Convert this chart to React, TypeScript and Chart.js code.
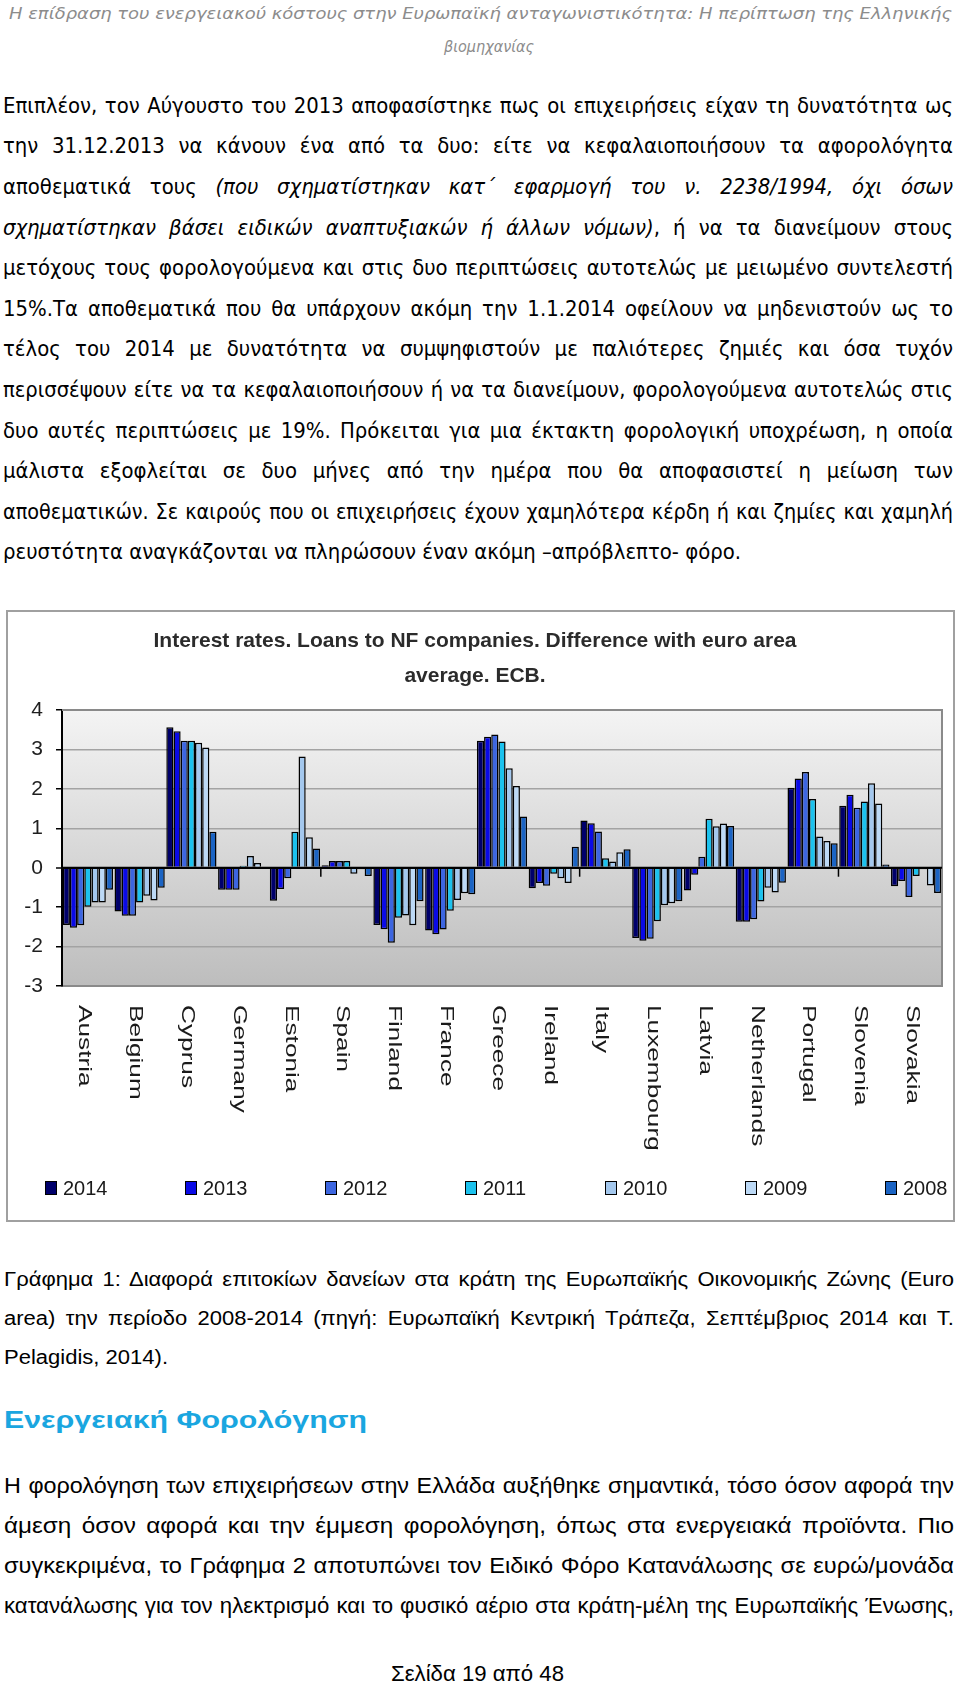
import React, { useEffect, useRef } from 'react';
import { Chart, registerables } from 'chart.js';
Chart.register(...registerables);

// ---------------- DATA ----------------
const countries = ['Austria', 'Belgium', 'Cyprus', 'Germany', 'Estonia', 'Spain', 'Finland', 'France', 'Greece', 'Ireland', 'Italy', 'Luxembourg', 'Latvia', 'Netherlands', 'Portugal', 'Slovenia', 'Slovakia'];
const years = ['2014', '2013', '2012', '2011', '2010', '2009', '2008'];
const v2014 = [-1.45, -1.11, 3.56, -0.56, -0.84, 0.06, -1.45, -1.59, 3.22, -0.52, 1.2, -1.78, -0.58, -1.37, 2.03, 1.57, -0.47];
const v2013 = [-1.52, -1.22, 3.46, -0.56, -0.54, 0.17, -1.56, -1.69, 3.32, -0.39, 1.13, -1.85, -0.18, -1.37, 2.26, 1.85, -0.34];
const v2012 = [-1.46, -1.22, 3.22, -0.56, -0.27, 0.17, -1.9, -1.57, 3.38, -0.46, 0.92, -1.8, 0.28, -1.31, 2.43, 1.52, -0.74];
const v2011 = [-0.99, -0.88, 3.22, 0.05, 0.91, 0.17, -1.27, -1.09, 3.2, -0.15, 0.24, -1.36, 1.24, -0.86, 1.74, 1.68, -0.21];
const v2010 = [-0.88, -0.71, 3.17, 0.3, 2.82, -0.15, -1.21, -0.82, 2.52, -0.27, 0.16, -0.95, 1.05, -0.51, 0.79, 2.14, -0.04];
const v2009 = [-0.88, -0.83, 3.05, 0.12, 0.77, -0.04, -1.46, -0.65, 2.07, -0.39, 0.39, -0.9, 1.12, -0.63, 0.68, 1.63, -0.45];
const v2008 = [-0.56, -0.51, 0.91, 0, 0.49, -0.21, -0.85, -0.67, 1.3, 0.53, 0.47, -0.85, 1.06, -0.38, 0.62, 0.08, -0.64];
const seriesValues = [v2014, v2013, v2012, v2011, v2010, v2009, v2008];
const seriesColors = ['#00006b', '#0a0ae6', '#3d66e0', '#1cc2ee', '#a4c8ee', '#bcd9f6', '#1b64c4'];
const yMin = -3;
const yMax = 4;
const yStep = 1;
const chartTitle = ['Interest rates. Loans to NF companies. Difference with euro area', 'average. ECB.'];

// ---------------- TEXT ----------------
const headerLines = ['Η επίδραση του ενεργειακού κόστους στην Ευρωπαϊκή ανταγωνιστικότητα: Η περίπτωση της Ελληνικής', 'βιομηχανίας'];
type Seg = { t: string; i?: boolean };
const bodyLines: Seg[][] = [
  [{ t: 'Επιπλέον, τον Αύγουστο του 2013 αποφασίστηκε πως οι επιχειρήσεις είχαν τη δυνατότητα ως' }],
  [{ t: 'την 31.12.2013 να κάνουν ένα από τα δυο: είτε να κεφαλαιοποιήσουν τα αφορολόγητα' }],
  [{ t: 'αποθεματικά τους ' }, { t: '(που σχηματίστηκαν κατ΄ εφαρμογή του ν. 2238/1994, όχι όσων', i: true }],
  [{ t: 'σχηματίστηκαν βάσει ειδικών αναπτυξιακών ή άλλων νόμων)', i: true }, { t: ', ή να τα διανείμουν στους' }],
  [{ t: 'μετόχους τους φορολογούμενα και στις δυο περιπτώσεις αυτοτελώς με μειωμένο συντελεστή' }],
  [{ t: '15%.Τα αποθεματικά που θα υπάρχουν ακόμη την 1.1.2014 οφείλουν να μηδενιστούν ως το' }],
  [{ t: 'τέλος του 2014 με δυνατότητα να συμψηφιστούν με παλιότερες ζημιές και όσα τυχόν' }],
  [{ t: 'περισσέψουν είτε να τα κεφαλαιοποιήσουν ή να τα διανείμουν, φορολογούμενα αυτοτελώς στις' }],
  [{ t: 'δυο αυτές περιπτώσεις με 19%. Πρόκειται για μια έκτακτη φορολογική υποχρέωση, η οποία' }],
  [{ t: 'μάλιστα εξοφλείται σε δυο μήνες από την ημέρα που θα αποφασιστεί η μείωση των' }],
  [{ t: 'αποθεματικών. Σε καιρούς που οι επιχειρήσεις έχουν χαμηλότερα κέρδη ή και ζημίες και χαμηλή' }],
  [{ t: 'ρευστότητα αναγκάζονται να πληρώσουν έναν ακόμη –απρόβλεπτο- φόρο.' }],
];
const captionLines = [
  'Γράφημα 1: Διαφορά επιτοκίων δανείων στα κράτη της Ευρωπαϊκής Οικονομικής Ζώνης (Euro',
  'area) την περίοδο 2008-2014 (πηγή: Ευρωπαϊκή Κεντρική Τράπεζα, Σεπτέμβριος 2014 και Τ.',
  'Pelagidis, 2014).',
];
const headingText = 'Ενεργειακή Φορολόγηση';
const para2Lines = [
  'Η φορολόγηση των επιχειρήσεων στην Ελλάδα αυξήθηκε σημαντικά, τόσο όσον αφορά την',
  'άμεση όσον αφορά και την έμμεση φορολόγηση, όπως στα ενεργειακά προϊόντα. Πιο',
  'συγκεκριμένα, το Γράφημα 2 αποτυπώνει τον Ειδικό Φόρο Κατανάλωσης σε ευρώ/μονάδα',
  'κατανάλωσης για τον ηλεκτρισμό και το φυσικό αέριο στα κράτη-μέλη της Ευρωπαϊκής Ένωσης,',
];
const footerText = 'Σελίδα 19 από 48';

// ---------------- TEXT LAYOUT HELPERS ----------------
const TAHOMA = '"DejaVu Sans Condensed", "DejaVu Sans", sans-serif';
const ARIAL = '"Liberation Sans", Arial, sans-serif';
const mctx = document.createElement('canvas').getContext('2d') as CanvasRenderingContext2D;
function fontStr(size: number, family: string, weight: number, italic: boolean) {
  return `${italic ? 'italic ' : ''}${weight} ${size}px ${family}`;
}
function tw(t: string, font: string) {
  mctx.font = font;
  return mctx.measureText(t).width;
}
function segsWidth(segs: Seg[], size: number, family: string, weight: number, italic: boolean) {
  return segs.reduce((a, s) => a + tw(s.t, fontStr(size, family, weight, italic || !!s.i)), 0);
}

type LineProps = {
  segs: Seg[]; x: number; base: number; w: number; size: number; family: string;
  weight?: number; italic?: boolean; color?: string; mode: 'justify' | 'fit' | 'center' | 'left'; scale?: number;
};
function Line(p: LineProps) {
  const weight = p.weight ?? 400;
  const italic = !!p.italic;
  const nat = segsWidth(p.segs, p.size, p.family, weight, italic);
  let s = p.scale ?? 1;
  let left = p.x;
  let innerW = nat + 8;
  if (p.mode === 'fit') {
    s = p.w / nat;
  } else if (p.mode === 'justify') {
    s = Math.min(s, p.w / (nat * 1.012));
    innerW = p.w / s;
  } else if (p.mode === 'center') {
    left = p.x + p.w / 2 - (nat * s) / 2;
  }
  const H = Math.round(p.size * 1.6);
  const top = p.base - H / 2 - 0.346 * p.size;
  const just = p.mode === 'justify';
  return (
    <div
      style={{
        position: 'absolute', left, top, width: innerW, height: H, lineHeight: H + 'px',
        fontFamily: p.family, fontSize: p.size, fontWeight: weight, fontStyle: italic ? 'italic' : 'normal',
        color: p.color ?? '#000', whiteSpace: just ? 'normal' : 'nowrap',
        textAlign: just ? 'justify' : 'left', textAlignLast: just ? 'justify' : 'left',
        transform: `scaleX(${s})`, transformOrigin: '0 0',
      } as React.CSSProperties}
    >
      {p.segs.map((sg, i) => (
        <span key={i} style={sg.i ? { fontStyle: 'italic' } : undefined}>{sg.t}</span>
      ))}
    </div>
  );
}

// ---------------- CHART PLUGINS ----------------
const bgPlugin = {
  id: 'plotBg',
  beforeDraw(chart: any) {
    const { ctx, chartArea: a, width, height } = chart;
    ctx.save();
    ctx.fillStyle = '#ffffff';
    ctx.fillRect(0, 0, width, height);
    const g = ctx.createLinearGradient(0, a.top, 0, a.bottom);
    g.addColorStop(0, '#f4f4f4');
    g.addColorStop(1, '#bdbdbd');
    ctx.fillStyle = g;
    ctx.fillRect(a.left, a.top, a.right - a.left, a.bottom - a.top);
    ctx.restore();
  },
};

const axisPlugin = {
  id: 'axisDeco',
  afterDatasetsDraw(chart: any) {
    const { ctx, chartArea: a, scales } = chart;
    const xs = scales.x;
    const ys = scales.y;
    ctx.save();
    ctx.strokeStyle = '#8a8a8a';
    ctx.lineWidth = 2;
    ctx.beginPath();
    ctx.moveTo(a.left, a.top);
    ctx.lineTo(a.right, a.top);
    ctx.lineTo(a.right, a.bottom);
    ctx.stroke();
    const y0 = ys.getPixelForValue(0);
    ctx.strokeStyle = '#000';
    ctx.lineWidth = 2;
    ctx.beginPath();
    ctx.moveTo(a.left, y0);
    ctx.lineTo(a.right, y0);
    ctx.stroke();
    ctx.lineWidth = 1.5;
    for (let k = 5; k < chart.data.labels.length; k += 5) {
      const x = (xs.getPixelForTick(k - 1) + xs.getPixelForTick(k)) / 2;
      ctx.beginPath();
      ctx.moveTo(x, y0);
      ctx.lineTo(x, y0 + 9);
      ctx.stroke();
    }
    ctx.restore();
  },
  afterDraw(chart: any) {
    const { ctx, scales } = chart;
    const xs = scales.x;
    ctx.save();
    ctx.font = `19px ${ARIAL}`;
    ctx.fillStyle = '#1a1a1a';
    ctx.textAlign = 'left';
    ctx.textBaseline = 'middle';
    chart.data.labels.forEach((lab: string, i: number) => {
      const x = xs.getPixelForTick(i) - 4;
      ctx.save();
      ctx.translate(x, xs.top + 19);
      ctx.rotate(Math.PI / 2);
      ctx.scale(1.38, 1);
      ctx.fillText(lab, 0, 0);
      ctx.restore();
    });
    const ly = 576;
    ctx.font = `20px ${ARIAL}`;
    chart.data.datasets.forEach((ds: any, i: number) => {
      const bx = 37 + 140 * i;
      ctx.fillStyle = ds.backgroundColor;
      ctx.fillRect(bx, ly - 7, 12, 14);
      ctx.strokeStyle = '#000';
      ctx.lineWidth = 1;
      ctx.strokeRect(bx + 0.5, ly - 6.5, 11, 13);
      ctx.fillStyle = '#1a1a1a';
      ctx.fillText(ds.label, bx + 18, ly + 1);
    });
    ctx.restore();
  },
};

function ChartBox() {
  const ref = useRef<HTMLCanvasElement>(null);
  useEffect(() => {
    const chart = new Chart(ref.current as HTMLCanvasElement, {
      type: 'bar',
      data: {
        labels: countries,
        datasets: years.map((y, i) => ({
          label: y,
          data: seriesValues[i],
          backgroundColor: seriesColors[i],
          borderColor: '#000',
          borderWidth: 1.5,
          barPercentage: 1,
          categoryPercentage: 0.97,
        })),
      },
      options: {
        responsive: false,
        animation: false,
        devicePixelRatio: 1,
        layout: { padding: { left: 0, right: 11, top: 0, bottom: 0 } },
        plugins: {
          legend: { display: false },
          tooltip: { enabled: false },
          title: {
            display: true,
            text: chartTitle,
            color: '#2b2b2b',
            font: { family: ARIAL, size: 21, weight: 'bold', lineHeight: 35 / 21 },
            padding: { top: 12, bottom: 16 },
          },
        },
        scales: {
          x: {
            grid: { display: false },
            border: { color: '#8a8a8a', width: 2 },
            ticks: { display: false },
            afterFit: (s: any) => { s.height = 234; },
          },
          y: {
            min: yMin,
            max: yMax,
            ticks: { stepSize: yStep, color: '#1e1e1e', font: { family: ARIAL, size: 21 }, padding: 13 },
            grid: {
              color: (c: any) => (c.tick && c.tick.value === 0 ? '#000' : '#a3a3a3'),
              lineWidth: (c: any) => (c.tick && c.tick.value === 0 ? 2 : 1.5),
              tickLength: 6,
              tickColor: '#000',
              tickWidth: 1.5,
            },
            border: { color: '#000', width: 2 },
            afterFit: (s: any) => { s.width = 54; },
          },
        },
      } as any,
      plugins: [bgPlugin, axisPlugin],
    });
    return () => chart.destroy();
  }, []);
  return (
    <div style={{ position: 'absolute', left: 6, top: 610, width: 949, height: 612, border: '2px solid #a0a0a0', boxSizing: 'border-box', background: '#fff' }}>
      <canvas ref={ref} width={945} height={608} style={{ display: 'block', width: 945, height: 608 }} />
    </div>
  );
}

export default function App() {
  const bodySize = 20.5;
  const bodyScale = 738 / segsWidth(bodyLines[11], bodySize, TAHOMA, 400, false);
  const headSize = 16.5;
  const headScale = 943 / tw(headerLines[0], fontStr(headSize, TAHOMA, 400, true));
  const capSize = 19.5;
  const capScale = 164 / tw(captionLines[2], fontStr(capSize, ARIAL, 400, false));
  const p2Size = 21.5;
  return (
    <div style={{ position: 'absolute', left: 0, top: 0, width: 960, height: 1694, background: '#fff', overflow: 'hidden' }}>
      <Line segs={[{ t: headerLines[0] }]} x={9} w={943} base={20} size={headSize} family={TAHOMA} italic color="#8c8c8c" mode="center" scale={headScale} />
      <Line segs={[{ t: headerLines[1] }]} x={444} w={90} base={53} size={headSize} family={TAHOMA} italic color="#8c8c8c" mode="fit" />
      {bodyLines.map((segs, i) => (
        <Line key={'b' + i} segs={segs} x={3} w={950} base={113.3 + 40.6 * i} size={bodySize} family={TAHOMA}
          mode={i === bodyLines.length - 1 ? 'left' : 'justify'} scale={bodyScale} color="#000" />
      ))}
      <ChartBox />
      {captionLines.map((t, i) => (
        <Line key={'c' + i} segs={[{ t }]} x={3.5} w={i === captionLines.length - 1 ? 164 : 950} base={1286.7 + 39 * i} size={capSize} family={ARIAL}
          mode={i === captionLines.length - 1 ? 'fit' : 'justify'} scale={capScale} />
      ))}
      <Line segs={[{ t: headingText }]} x={3.5} w={363} base={1428} size={23.5} weight={700} family={ARIAL} color="#1aa6e0" mode="fit" />
      {para2Lines.map((t, i) => (
        <Line key={'p' + i} segs={[{ t }]} x={3.5} w={950} base={1493.3 + 40 * i} size={p2Size} family={ARIAL} mode="justify" scale={capScale} />
      ))}
      <Line segs={[{ t: footerText }]} x={391} w={173} base={1681} size={22} family={ARIAL} mode="fit" />
    </div>
  );
}
